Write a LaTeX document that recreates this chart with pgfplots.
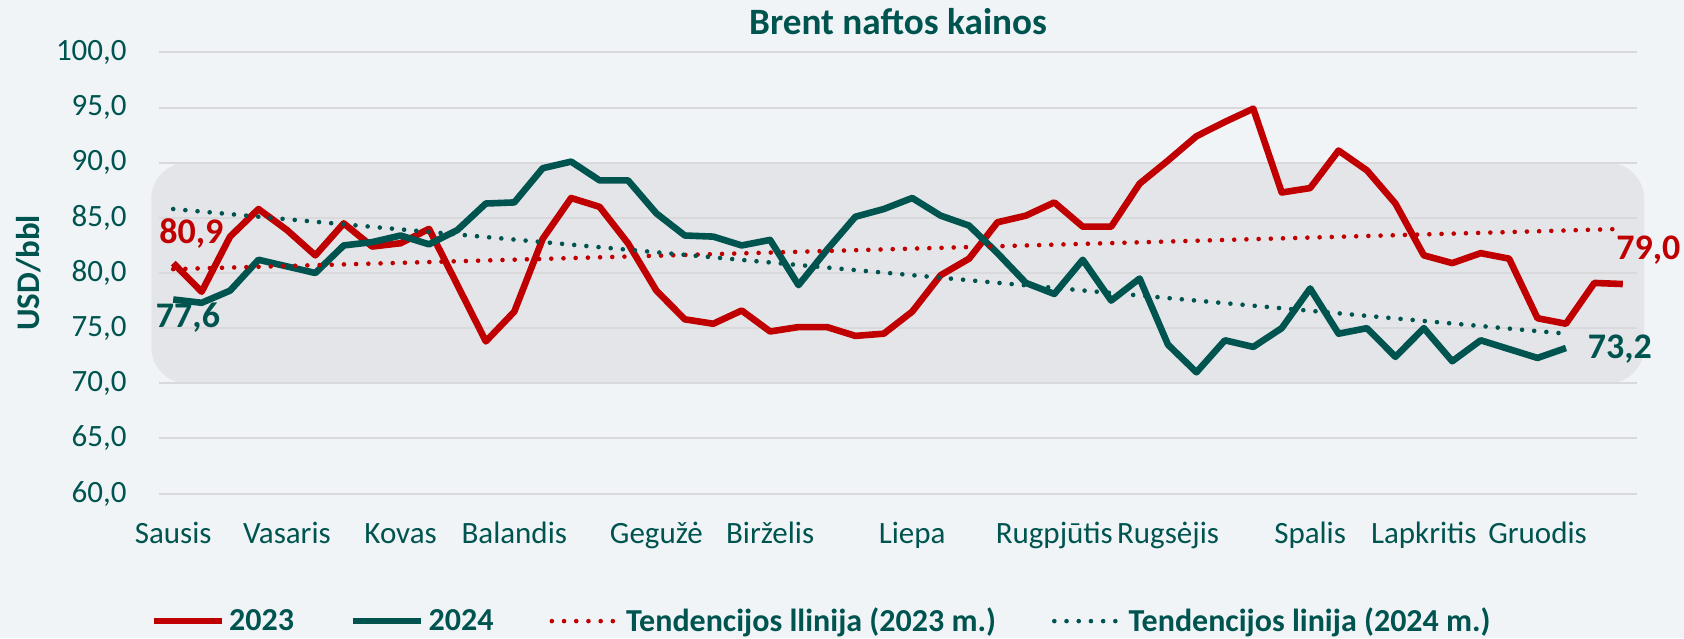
\documentclass[border=0pt]{standalone}
\usepackage{fontspec}
\setmainfont{Carlito}
\usepackage{pgfplots}
\pgfplotsset{compat=1.18}
\definecolor{myred}{RGB}{192,0,0}
\definecolor{myteal}{RGB}{0,84,80}
\definecolor{bg}{RGB}{240,244,247}
\definecolor{rectgray}{RGB}{228,229,232}
\definecolor{gridgray}{RGB}{217,217,219}
\pagecolor{bg}
\begin{document}
\begin{tikzpicture}
\path (0,0) rectangle (842pt,-319pt);
\node[font=\fontsize{18.6}{21}\selectfont\bfseries, text=myteal] at (449pt,-10.75pt) {Brent naftos kainos};
\node[rotate=90, font=\fontsize{16.5}{18}\selectfont\bfseries, text=myteal] at (14.5pt,-136.5pt) {USD/bbl};
\begin{axis}[
 at={(79.5pt,-246.8pt)}, anchor=south west,
 scale only axis, width=739pt, height=220.6pt,
 xmin=-0.5, xmax=51.5, ymin=60, ymax=100,
 ytick={60,65,...,100},
 xtick={0,4,8,12,17,21,26,31,35,40,44,48},
 xticklabels={Sausis,Vasaris,Kovas,Balandis,Gegužė,Birželis,Liepa,Rugpjūtis,Rugsėjis,Spalis,Lapkritis,Gruodis},
 axis line style={draw=none},
 major tick length=0pt,
 ymajorgrids, grid style={gridgray, line width=1pt},
 set layers, clip=false,
 /pgf/number format/fixed, /pgf/number format/fixed zerofill,
 /pgf/number format/precision=1, /pgf/number format/use comma,
 /pgf/number format/assume math mode=true,
 tick label style={font=\fontsize{15.5}{18}\selectfont, text=myteal},
 yticklabel style={anchor=east, inner sep=0pt, xshift=-16pt},
 xticklabel style={anchor=base, yshift=-25pt},
 legend style={at={(0.449,-0.289)}, anchor=center, draw=none, fill=none,
   font=\fontsize{16}{18}\selectfont\bfseries, text=myteal,
   /tikz/every even column/.append style={column sep=26pt}},
 legend columns=4,
 legend image code/.code={\draw[#1] (0pt,0pt) -- (34pt,0pt);},
]
\begin{pgfonlayer}{axis background}
\fill[rectgray, rounded corners=18pt] (axis cs:-0.77,70) rectangle (axis cs:51.75,90);
\end{pgfonlayer}

\addplot[myred, line width=3.3pt, line join=round] table {
0 80.9
1 78.3
2 83.3
3 85.8
4 83.9
5 81.6
6 84.5
7 82.4
8 82.7
9 84.0
10 78.9
11 73.8
12 76.5
13 83.1
14 86.8
15 86.0
16 82.7
17 78.4
18 75.8
19 75.4
20 76.6
21 74.7
22 75.1
23 75.1
24 74.3
25 74.5
26 76.5
27 79.8
28 81.3
29 84.6
30 85.2
31 86.4
32 84.2
33 84.2
34 88.1
35 90.2
36 92.4
37 93.7
38 94.9
39 87.3
40 87.7
41 91.1
42 89.3
43 86.3
44 81.6
45 80.9
46 81.8
47 81.3
48 75.9
49 75.4
50 79.1
51 79.0
};
\addlegendentry{2023}
\addplot[myteal, line width=3.3pt, line join=round] table {
0 77.6
1 77.3
2 78.4
3 81.2
4 80.6
5 80.0
6 82.5
7 82.8
8 83.4
9 82.6
10 83.9
11 86.3
12 86.4
13 89.5
14 90.1
15 88.4
16 88.4
17 85.4
18 83.4
19 83.3
20 82.5
21 83.0
22 78.9
23 82.1
24 85.1
25 85.8
26 86.8
27 85.2
28 84.3
29 81.8
30 79.1
31 78.1
32 81.2
33 77.5
34 79.5
35 73.5
36 71.0
37 73.9
38 73.3
39 75.0
40 78.6
41 74.5
42 75.0
43 72.4
44 75.0
45 72.0
46 73.9
47 73.1
48 72.3
49 73.2
};
\addlegendentry{2024}
\addplot[myred, line width=2.3pt, line cap=round, dash pattern=on 0pt off 6.1pt] coordinates {(0,80.35) (51,84.0)};
\addlegendentry{Tendencijos llinija (2023 m.)}
\addplot[myteal, line width=2.3pt, line cap=round, dash pattern=on 0pt off 6.1pt] coordinates {(0,85.8) (49,74.5)};
\addlegendentry{Tendencijos linija (2024 m.)}

\node[font=\fontsize{18}{20}\selectfont\bfseries, text=myred] at (axis cs:0.64,83.6) {80,9};
\node[font=\fontsize{18}{20}\selectfont\bfseries, text=myteal] at (axis cs:0.52,75.96) {77,6};
\node[font=\fontsize{18}{20}\selectfont\bfseries, text=myred] at (axis cs:51.9,82.07) {79,0};
\node[font=\fontsize{18}{20}\selectfont\bfseries, text=myteal] at (axis cs:50.9,73.06) {73,2};
\end{axis}
\pgfresetboundingbox
\path[use as bounding box] (0,0) rectangle (842pt,-319pt);
\end{tikzpicture}
\end{document}
